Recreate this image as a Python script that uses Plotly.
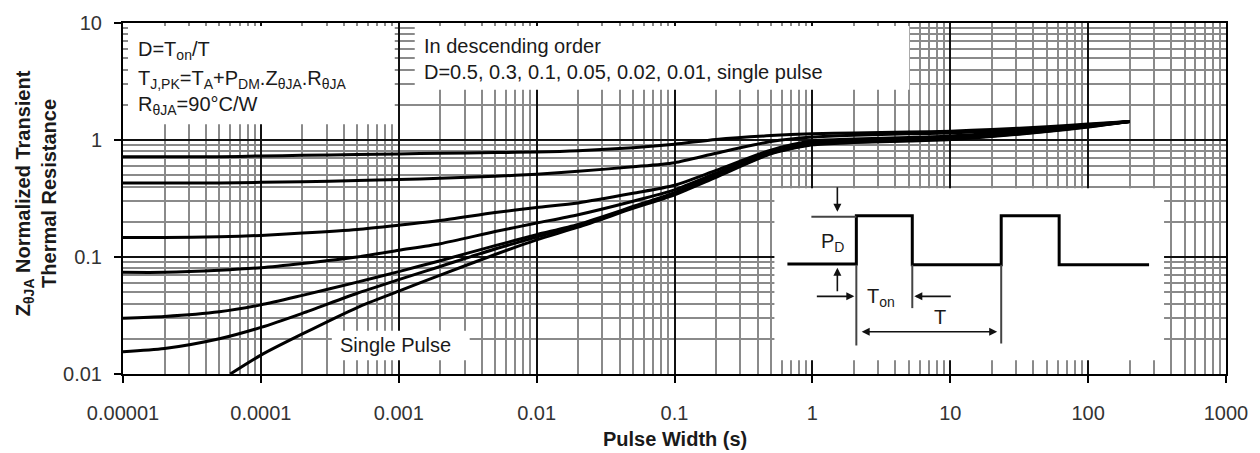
import plotly.graph_objects as go

# ---------------- data ----------------
pulse_width = [1e-5, 2e-5, 5e-5, 1e-4, 2e-4, 5e-4, 1e-3, 2e-3, 5e-3, 1e-2, 2e-2, 5e-2,
               0.1, 0.2, 0.5, 1, 2, 5, 10, 20, 50, 100, 200]
z_d050 = [0.72, 0.72, 0.72, 0.73, 0.74, 0.75, 0.76, 0.77, 0.78, 0.79, 0.81, 0.86,
          0.92, 1.01, 1.09, 1.13, 1.15, 1.17, 1.19, 1.23, 1.30, 1.37, 1.44]
z_d030 = [0.43, 0.43, 0.43, 0.435, 0.44, 0.45, 0.46, 0.47, 0.49, 0.51, 0.54, 0.59,
          0.64, 0.77, 0.97, 1.06, 1.10, 1.13, 1.15, 1.19, 1.27, 1.35, 1.44]
z_d010 = [0.147, 0.147, 0.149, 0.153, 0.16, 0.172, 0.187, 0.205, 0.24, 0.265, 0.29, 0.35,
          0.41, 0.55, 0.82, 0.98, 1.02, 1.05, 1.08, 1.14, 1.24, 1.33, 1.44]
z_d005 = [0.074, 0.074, 0.077, 0.081, 0.088, 0.10, 0.114, 0.13, 0.165, 0.195, 0.23, 0.30,
          0.375, 0.52, 0.80, 0.95, 0.99, 1.02, 1.05, 1.11, 1.22, 1.32, 1.44]
z_d002 = [0.030, 0.031, 0.034, 0.039, 0.047, 0.061, 0.075, 0.093, 0.125, 0.155, 0.19, 0.27,
          0.355, 0.50, 0.78, 0.93, 0.97, 1.00, 1.03, 1.09, 1.20, 1.31, 1.44]
z_d001 = [0.0155, 0.0165, 0.020, 0.025, 0.033, 0.049, 0.064, 0.083, 0.117, 0.148, 0.185, 0.265,
          0.35, 0.49, 0.77, 0.92, 0.96, 0.99, 1.02, 1.08, 1.19, 1.30, 1.44]
single_width = [6e-5, 1e-4, 2e-4, 5e-4, 1e-3, 2e-3, 5e-3, 1e-2, 2e-2, 5e-2,
                0.1, 0.2, 0.5, 1, 2, 5, 10, 20, 50, 100, 200]
z_single = [0.010, 0.0145, 0.022, 0.037, 0.051, 0.070, 0.105, 0.14, 0.18, 0.26,
            0.34, 0.48, 0.76, 0.91, 0.95, 0.98, 1.01, 1.07, 1.18, 1.29, 1.44]

x_ticks = [1e-5, 1e-4, 1e-3, 1e-2, 0.1, 1, 10, 100, 1000]
x_labels = ["0.00001", "0.0001", "0.001", "0.01", "0.1", "1", "10", "100", "1000"]
y_ticks = [0.01, 0.1, 1, 10]
y_labels = ["0.01", "0.1", "1", "10"]

x_minor = [k * 10 ** e for e in range(-5, 3) for k in range(2, 10)]
y_minor = [k * 10 ** e for e in range(-2, 1) for k in range(2, 10)]

# ---------------- layout geometry ----------------
W, H = 1260, 453
L, R, T, B = 123, 33, 17, 79
PW, PH = W - L - R, H - T - B

def px(x):
    return (x - L) / PW

def py(y):
    return (H - B - y) / PH

FONT = "Liberation Sans, Arial, sans-serif"
TXT = "#1a1a1a"

fig = go.Figure()
series = [(z_d050, pulse_width), (z_d030, pulse_width), (z_d010, pulse_width),
          (z_d005, pulse_width), (z_d002, pulse_width), (z_d001, pulse_width),
          (z_single, single_width)]
names = ["D=0.5", "D=0.3", "D=0.1", "D=0.05", "D=0.02", "D=0.01", "Single pulse"]
for (ys, xs), nm in zip(series, names):
    fig.add_trace(go.Scatter(x=xs, y=ys, mode="lines", name=nm,
                             line=dict(color="#000", width=3, shape="spline", smoothing=0.7),
                             showlegend=False))

shapes = []
# white boxes masking the grid (no curve passes through them)
for (x0, y0, x1, y1) in [(128, 20, 395, 120), (415, 20, 910, 85),
                         (775, 185, 1165, 360), (332, 330, 470, 360)]:
    shapes.append(dict(type="rect", xref="paper", yref="paper",
                       x0=px(x0), x1=px(x1), y0=py(y1), y1=py(y0),
                       fillcolor="white", line=dict(width=0), layer="above"))

# pulse-train schematic (inset)
pulse_pts = [(788, 262), (857, 262), (857, 213), (913, 213), (913, 263), (1002, 263),
             (1002, 213), (1060, 213), (1060, 263), (1150, 263)]
path = "M " + " L ".join(f"{px(a):.5f},{py(b):.5f}" for a, b in pulse_pts)
shapes.append(dict(type="path", xref="paper", yref="paper", path=path,
                   line=dict(color="#000", width=3), layer="above"))
for (x0, y0, x1, y1) in [(812, 214, 857, 214), (857, 263, 857, 345),
                         (913, 263, 913, 307), (1002, 263, 1002, 343)]:
    shapes.append(dict(type="line", xref="paper", yref="paper",
                       x0=px(x0), y0=py(y0), x1=px(x1), y1=py(y1),
                       line=dict(color="#444", width=2), layer="above"))

annotations = []
def arrow(tx, ty, sx, sy, both=False):
    annotations.append(dict(xref="paper", yref="paper", x=px(tx), y=py(ty),
                            axref="pixel", ayref="pixel", ax=sx - tx, ay=sy - ty,
                            text="", showarrow=True, arrowhead=2, arrowsize=1,
                            arrowwidth=1.6, arrowcolor="#111",
                            arrowside="end+start" if both else "end"))

arrow(838, 209, 838, 183)
arrow(838, 266, 838, 291)
arrow(855, 295, 816, 295)
arrow(915, 295, 953, 295)
arrow(998, 331, 861, 331, both=True)

def text(x, y, s, size=20, xanchor="left", angle=0):
    annotations.append(dict(xref="paper", yref="paper", x=px(x), y=py(y), text=s,
                            showarrow=False, xanchor=xanchor, yanchor="middle",
                            textangle=angle,
                            font=dict(family=FONT, size=size, color=TXT)))

text(136, 45, "D=T<sub>on</sub>/T")
text(136, 74, "T<sub>J,PK</sub>=T<sub>A</sub>+P<sub>DM</sub>.Z<sub>θJA</sub>.R<sub>θJA</sub>")
text(136, 101, "R<sub>θJA</sub>=90°C/W")
text(422, 40, "In descending order")
text(422, 67, "D=0.5, 0.3, 0.1, 0.05, 0.02, 0.01, single pulse")
text(338, 344, "Single Pulse")
text(820, 240, "P<sub>D</sub>")
text(866, 296, "T<sub>on</sub>")
text(933, 316, "T")

# axis titles
text(675, 440, "<b>Pulse Width (s)</b>", xanchor="center")
text(36, 190, "<b>Z<sub>θJA</sub> Normalized Transient<br>Thermal Resistance</b>",
     xanchor="center", angle=-90)

axis_common = dict(type="log", showline=True, linecolor="#000", linewidth=2, mirror=True,
                   ticks="outside", ticklen=7, tickwidth=1.5, tickcolor="#000",
                   showgrid=True, gridcolor="#111", gridwidth=2,
                   tickfont=dict(family=FONT, size=20, color="#333"),
                   zeroline=False)

fig.update_xaxes(range=[-5, 3], tickmode="array", tickvals=x_ticks, ticktext=x_labels,
                 ticklabelstandoff=13,
                 minor=dict(tickmode="array", tickvals=x_minor, showgrid=True,
                            gridcolor="#8a8a8a", gridwidth=2, ticks=""),
                 **axis_common)
fig.update_yaxes(range=[-2, 1], tickmode="array", tickvals=y_ticks, ticktext=y_labels,
                 ticklabelstandoff=8,
                 minor=dict(tickmode="array", tickvals=y_minor, showgrid=True,
                            gridcolor="#8a8a8a", gridwidth=2, ticks=""),
                 **axis_common)

fig.update_layout(width=W, height=H, autosize=False,
                  margin=dict(l=L, r=R, t=T, b=B, pad=0),
                  plot_bgcolor="white", paper_bgcolor="white",
                  shapes=shapes, annotations=annotations,
                  font=dict(family=FONT, color=TXT))

fig.write_html("out.html", config={"displayModeBar": False},
               post_script="document.body.style.margin='0px';document.body.style.overflow='hidden';")
